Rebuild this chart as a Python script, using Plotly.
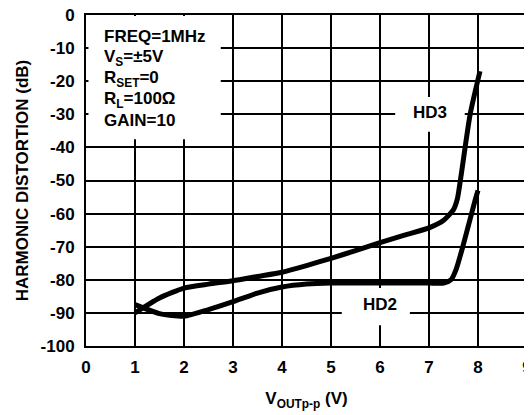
import plotly.graph_objects as go

# HD3 curve
hd3_x = [1.0, 1.5, 2.0, 2.5, 3.0, 3.5, 4.0, 4.5, 5.0, 5.5, 6.0, 6.5, 7.0, 7.3, 7.5, 7.58, 7.65, 7.84, 8.04]
hd3_y = [-90, -85.5, -82.5, -81.3, -80.3, -79.0, -77.7, -75.7, -73.5, -71.2, -68.8, -66.5, -64.3, -62.0, -58.8, -55.5, -49.0, -30.0, -17.0]

# HD2 curve
hd2_x = [1.0, 1.5, 2.0, 2.5, 3.0, 3.5, 4.0, 4.5, 5.0, 6.0, 7.0, 7.3, 7.45, 7.55, 7.69, 7.94, 8.0]
hd2_y = [-87.5, -90.2, -91.0, -89.0, -86.6, -84.0, -82.2, -81.3, -81.0, -81.0, -81.0, -81.0, -80.0, -77.0, -70.0, -56.0, -53.0]

x_ticks = [0, 1, 2, 3, 4, 5, 6, 7, 8, 9]
y_ticks = [0, -10, -20, -30, -40, -50, -60, -70, -80, -90, -100]
y_ticktext = ["0", "-10", "-20", "-30", "-40", "-50", "-60", "-70", "-80", "-90", "-100"]

cond_lines = ["FREQ=1MHz", "V<sub>S</sub>=±5V", "R<sub>SET</sub>=0", "R<sub>L</sub>=100Ω", "GAIN=10"]

FONT = "Liberation Sans, Arial, sans-serif"


def b(t):
    return "<b>" + t + "</b>"


fig = go.Figure()
fig.add_trace(go.Scatter(x=hd3_x, y=hd3_y, mode="lines",
                         line=dict(color="black", width=5, shape="spline", smoothing=0.6),
                         showlegend=False, hoverinfo="skip"))
fig.add_trace(go.Scatter(x=hd2_x, y=hd2_y, mode="lines",
                         line=dict(color="black", width=5, shape="spline", smoothing=0.6),
                         showlegend=False, hoverinfo="skip"))

# white masks behind labels (between gridlines and traces)
fig.add_shape(type="rect", xref="x", yref="y", x0=0.05, x1=2.75, y0=-37.5, y1=-0.3,
              fillcolor="white", line=dict(width=0), layer="between")
fig.add_shape(type="rect", xref="x", yref="y", x0=6.31, x1=7.73, y0=-35.3, y1=-24.8,
              fillcolor="white", line=dict(width=0), layer="between")
fig.add_shape(type="rect", xref="x", yref="y", x0=5.22, x1=6.61, y0=-93.7, y1=-82.5,
              fillcolor="white", line=dict(width=0), layer="between")

line_y = [-6.6, -13.0, -19.3, -25.7, -32.0]
for txt, yy in zip(cond_lines, line_y):
    fig.add_annotation(x=0.33, y=yy, xref="x", yref="y", text=b(txt), showarrow=False,
                       xanchor="left", yanchor="middle",
                       font=dict(family=FONT, size=17, color="black"))

fig.add_annotation(x=7.02, y=-29.5, xref="x", yref="y", text=b("HD3"), showarrow=False,
                   font=dict(family=FONT, size=17, color="black"))
fig.add_annotation(x=6.0, y=-87.6, xref="x", yref="y", text=b("HD2"), showarrow=False,
                   font=dict(family=FONT, size=17, color="black"))

fig.update_xaxes(range=[0, 9], tickvals=x_ticks, ticktext=[b(str(v)) for v in x_ticks],
                 showgrid=True, gridcolor="black", gridwidth=2,
                 showline=True, linecolor="black", linewidth=2, mirror=True,
                 ticks="", zeroline=False, automargin=False,
                 ticklabeloverflow="allow",
                 tickfont=dict(family=FONT, size=17, color="black"),
                 ticklabelstandoff=5,
                 title=dict(text=b("V<sub>OUTp-p</sub> (V)"), standoff=16,
                            font=dict(family=FONT, size=17, color="black")))
fig.update_yaxes(range=[-100, 0], tickvals=y_ticks, ticktext=[b(t) for t in y_ticktext],
                 showgrid=True, gridcolor="black", gridwidth=2,
                 showline=True, linecolor="black", linewidth=2, mirror=True,
                 ticks="", zeroline=False, automargin=False,
                 ticklabeloverflow="allow",
                 tickfont=dict(family=FONT, size=17, color="black"),
                 ticklabelstandoff=6,
                 title=dict(text=b("HARMONIC DISTORTION (dB)"), standoff=8,
                            font=dict(family=FONT, size=17, color="black")))

fig.update_layout(width=524, height=407, plot_bgcolor="white", paper_bgcolor="white",
                  margin=dict(l=78, r=5, t=7, b=69))

fig.write_html("out.html")
